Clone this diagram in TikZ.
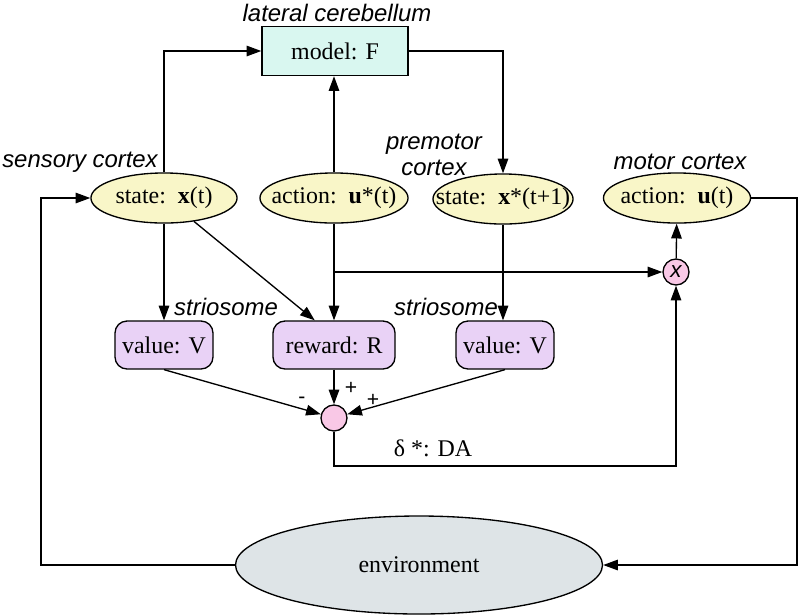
\documentclass[tikz,border=0pt]{standalone}
\usepackage{fontspec}
\usepackage{tikz}
\usetikzlibrary{shapes.geometric,arrows.meta}
\setmainfont{Liberation Serif}
\setsansfont{Liberation Sans}
\definecolor{modelfill}{RGB}{217,247,240}
\definecolor{statefill}{RGB}{249,246,200}
\definecolor{valuefill}{RGB}{233,210,246}
\definecolor{sumfill}{RGB}{249,200,230}
\definecolor{envfill}{RGB}{222,228,231}

\begin{document}
\begin{tikzpicture}[x=0.025cm, y=-0.025cm, line width=0.95pt,
    >={Triangle[length=10.5pt,width=7.5pt]},
    txt/.style={font=\fontsize{17}{18}\selectfont},
    area/.style={font=\fontsize{17}{18}\selectfont\sffamily\itshape, align=center},
    every label/.style={txt, inner sep=0pt},
    modelbox/.style={draw, fill=modelfill, minimum width=103.9pt, minimum height=34.9pt, inner sep=0pt, txt},
    cortex/.style={draw, ellipse, fill=statefill, minimum height=35.6pt, inner sep=0pt},
    valbox/.style={draw, fill=valuefill, rounded corners=8.5pt, minimum width=69.7pt, minimum height=34.1pt, inner sep=0pt, txt},
    junction/.style={draw, circle, fill=sumfill, minimum size=18.5pt, inner sep=0pt}]
    \useasboundingbox (0,0) rectangle (799,614);

    % Forward model in the lateral cerebellum
    \node[modelbox] (model) at (335,51) {model: F};
    \node[area] (cereb) at (337,13) {lateral cerebellum};

    % Cortical states and actions
    \node[cortex, minimum width=103.9pt, label={center:state:\ \ $\mathbf{x}$(t)}] (sx) at (164,198) {};
    \node[cortex, minimum width=105.3pt, label={center:action:\ \ $\mathbf{u}$*(t)}] (au) at (334,198) {};
    \node[cortex, minimum width=99.6pt, label={center:state:\ \ $\mathbf{x}$*(t+1)}] (sn) at (503,199) {};
    \node[cortex, minimum width=104.6pt, label={center:action:\ \ $\mathbf{u}$(t)}] (am) at (677,198) {};
    \node[area] (sens) at (80,162) {sensory cortex};
    \node[area] (prem) at (434,155) {premotor\\cortex};
    \node[area] (motor) at (680,162) {motor cortex};

    % Striosome values and reward
    \node[valbox] (vl) at (164,345) {value: V};
    \node[valbox, minimum width=86.8pt] (rw) at (334,345) {reward: R};
    \node[valbox] (vr) at (505,345) {value: V};
    \node[area] (strl) at (226,307) {striosome};
    \node[area] (strr) at (446,307) {striosome};

    % Summing point and multiplier
    \node[junction] (sum) at (334,418) {};
    \node[junction, font=\fontsize{16}{16}\selectfont\sffamily\itshape] (mult) at (676,272) {x};

    % Environment
    \node[draw, ellipse, fill=envfill, minimum width=261pt, minimum height=69.7pt, inner sep=0pt, label={center:environment}] (env) at (419,565) {};

    % Corner points of the loops
    \coordinate (br) at (au |- mult);
    \coordinate (da) at (334,466);
    \coordinate (lp) at (41,565);
    \coordinate (rp) at (797,198);

    % Model connections
    \draw[->] (sx) |- (model);
    \draw[->] (au) -- (au |- model.south);
    \draw[->] (model) -| (sn);

    % Down to the striosome
    \draw[->] (sx) -- (vl);
    \draw[->] (sx.-38) -- (rw.128);
    \draw[->] (au) -- (rw);
    \draw[->] (sn) -- (sn |- vr.north);
    \draw[->] (br) -- (mult);
    \draw[->] (mult) -- (am);

    % Into the summing point
    \draw[->] (vl.south) -- (sum);
    \draw[->] (rw.south) -- (sum);
    \draw[->] (vr.south) -- (sum);
    \node[font=\fontsize{15}{15}\selectfont\sffamily] (pl1) at (351,388) {+};
    \node[font=\fontsize{15}{15}\selectfont\sffamily] (mi) at (302,400) {-};
    \node[font=\fontsize{15}{15}\selectfont\sffamily] (pl2) at (373,400) {+};

    % Dopamine signal to the multiplier
    \draw[->] (sum) -- (da) -| (mult);
    \node[txt] (dalab) at (433,448) {δ *: DA};

    % Loop through the environment
    \draw[->] (env) -- (lp) |- (sx);
    \draw[->] (am) -- (rp) |- (env);
\end{tikzpicture}
\end{document}
